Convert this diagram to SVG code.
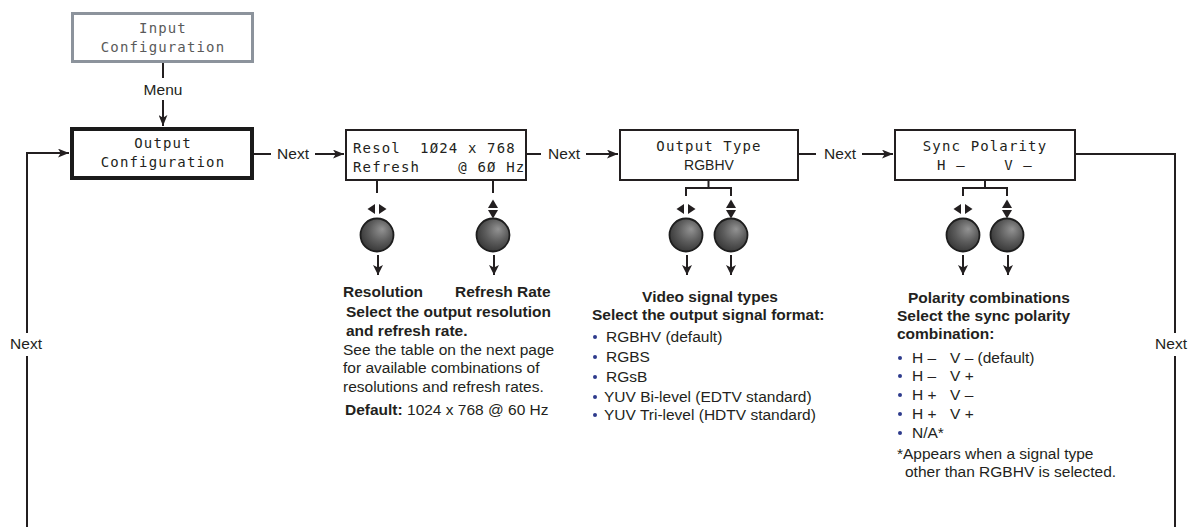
<svg xmlns="http://www.w3.org/2000/svg" width="1196" height="527" viewBox="0 0 1196 527">
<style>
.ln{stroke:#231f20;stroke-width:2;fill:none}
.box{fill:#fff;stroke:#231f20;stroke-width:2}
.mono{font-family:"DejaVu Sans Mono","Liberation Mono",monospace;font-size:14px;letter-spacing:1.15px;fill:#231f20}
.lbl{font-family:"Liberation Sans",Arial,sans-serif;font-size:15.5px;fill:#231f20}
.b{font-weight:bold}
.btn{fill:url(#btn);stroke:#1e1e1e;stroke-width:1.8}
.ico{fill:#231f20}
.dot{fill:#2e3a8c}
.mid{text-anchor:middle}
</style>
<defs>
<marker id="arr" viewBox="0 0 10 8" refX="10" refY="4" markerWidth="11" markerHeight="9" markerUnits="userSpaceOnUse" orient="auto">
<path d="M0,0 L10,4 L0,8 L2.5,4 z" fill="#231f20"/>
</marker>
<marker id="arrs" viewBox="0 0 10 10" refX="10" refY="5" markerWidth="10" markerHeight="10" markerUnits="userSpaceOnUse" orient="auto">
<path d="M0,0 L10,5 L0,10 L2.5,5 z" fill="#231f20"/>
</marker>
<radialGradient id="btn" cx="0.58" cy="0.4" r="0.62" fx="0.66" fy="0.32">
<stop offset="0" stop-color="#939393"/>
<stop offset="0.55" stop-color="#5d5d5d"/>
<stop offset="1" stop-color="#383838"/>
</radialGradient>
</defs>

<g id="connectors">
<line class="ln" x1="163" y1="63" x2="163" y2="78"/>
<line class="ln" x1="163" y1="100" x2="163" y2="126" marker-end="url(#arr)"/>
<line class="ln" x1="254" y1="154" x2="271" y2="154"/>
<line class="ln" x1="315" y1="154" x2="344" y2="154" marker-end="url(#arr)"/>
<line class="ln" x1="527" y1="154" x2="541" y2="154"/>
<line class="ln" x1="586" y1="154" x2="618" y2="154" marker-end="url(#arr)"/>
<line class="ln" x1="799" y1="154" x2="816" y2="154"/>
<line class="ln" x1="862" y1="154" x2="893" y2="154" marker-end="url(#arr)"/>
<polyline class="ln" points="1076,154 1175,154 1175,333"/>
<line class="ln" x1="1175" y1="356" x2="1175" y2="527"/>
<line class="ln" x1="27" y1="527" x2="27" y2="356"/>
<polyline class="ln" points="27,333 27,153 69,153" marker-end="url(#arr)"/>
<text class="lbl mid" x="163" y="95">Menu</text>
<text class="lbl mid" x="293" y="159">Next</text>
<text class="lbl mid" x="564" y="159">Next</text>
<text class="lbl mid" x="840" y="159">Next</text>
<text class="lbl mid" x="1171" y="349">Next</text>
<text class="lbl mid" x="26" y="349">Next</text>
</g>

<g id="input-configuration">
<rect x="72.5" y="13.5" width="180" height="48" fill="#fff" stroke="#8c939c" stroke-width="3"/>
<text class="mono mid" x="163" y="33" style="fill:#5a5a5a">Input</text>
<text class="mono mid" x="163" y="52" style="fill:#5a5a5a">Configuration</text>
</g>

<g id="output-configuration">
<rect x="72" y="129" width="180" height="49" fill="#fff" stroke="#1a1a1a" stroke-width="4"/>
<text class="mono mid" x="163" y="148">Output</text>
<text class="mono mid" x="163" y="167">Configuration</text>
</g>

<g id="resolution">
<rect class="box" x="346" y="130" width="180" height="50"/>
<text class="mono" x="353" y="153" xml:space="preserve">Resol  1Ø24 x 768</text>
<text class="mono" x="353" y="172" xml:space="preserve">Refresh    @ 6Ø Hz</text>
<line class="ln" x1="377" y1="181" x2="377" y2="193"/>
<line class="ln" x1="493" y1="181" x2="493" y2="193"/>
<polygon class="ico" points="367.5,209 375,204 375,214"/>
<polygon class="ico" points="386.5,209 379,204 379,214"/>
<polygon class="ico" points="493,199.5 498,208 488,208"/>
<polygon class="ico" points="493,218.5 498,210 488,210"/>
<circle class="btn" cx="377" cy="235" r="16.5"/>
<circle class="btn" cx="493" cy="235" r="16.5"/>
<line class="ln" x1="378" y1="255" x2="378" y2="275" marker-end="url(#arrs)"/>
<line class="ln" x1="494" y1="255" x2="494" y2="275" marker-end="url(#arrs)"/>
<text class="lbl b" x="343" y="297">Resolution</text>
<text class="lbl b" x="455" y="297">Refresh Rate</text>
<text class="lbl b" x="346" y="317">Select the output resolution</text>
<text class="lbl b" x="346" y="336">and refresh rate.</text>
<text class="lbl" x="343" y="355">See the table on the next page</text>
<text class="lbl" x="343" y="373">for available combinations of</text>
<text class="lbl" x="343" y="392">resolutions and refresh rates.</text>
<text class="lbl" x="345" y="415"><tspan class="b">Default:</tspan> 1024 x 768 @ 60 Hz</text>
</g>

<g id="output-type">
<rect class="box" x="620" y="130" width="178" height="50"/>
<text class="mono mid" x="709" y="151">Output Type</text>
<text class="mid" x="709" y="170" style="font-family:'Liberation Sans Narrow','Liberation Sans',Arial,sans-serif;font-size:14px;fill:#231f20">RGBHV</text>
<polyline class="ln" points="686,196 686,188 731,188 731,196"/>
<line class="ln" x1="708.5" y1="181" x2="708.5" y2="188"/>
<polygon class="ico" points="676.5,209 684,204 684,214"/>
<polygon class="ico" points="695.5,209 688,204 688,214"/>
<polygon class="ico" points="731,199.5 736,208 726,208"/>
<polygon class="ico" points="731,218.5 736,210 726,210"/>
<circle class="btn" cx="686" cy="235" r="16.5"/>
<circle class="btn" cx="731" cy="235" r="16.5"/>
<line class="ln" x1="687" y1="255" x2="687" y2="275" marker-end="url(#arrs)"/>
<line class="ln" x1="731" y1="255" x2="731" y2="275" marker-end="url(#arrs)"/>
<text class="lbl b mid" x="710" y="302">Video signal types</text>
<text class="lbl b" x="592" y="320">Select the output signal format:</text>
<circle class="dot" cx="595" cy="337" r="2"/>
<text class="lbl" x="606" y="342">RGBHV (default)</text>
<circle class="dot" cx="595" cy="357" r="2"/>
<text class="lbl" x="606" y="362">RGBS</text>
<circle class="dot" cx="595" cy="377" r="2"/>
<text class="lbl" x="606" y="382">RGsB</text>
<circle class="dot" cx="595" cy="397" r="2"/>
<text class="lbl" x="604" y="402">YUV Bi-level (EDTV standard)</text>
<circle class="dot" cx="595" cy="415" r="2"/>
<text class="lbl" x="604" y="420">YUV Tri-level (HDTV standard)</text>
</g>

<g id="sync-polarity">
<rect class="box" x="895" y="130" width="180" height="50"/>
<text class="mono mid" x="985" y="151">Sync Polarity</text>
<text class="mono mid" x="985" y="170" xml:space="preserve">H —    V —</text>
<polyline class="ln" points="963,196 963,188 1007,188 1007,196"/>
<line class="ln" x1="985" y1="181" x2="985" y2="188"/>
<polygon class="ico" points="953.5,209 961,204 961,214"/>
<polygon class="ico" points="972.5,209 965,204 965,214"/>
<polygon class="ico" points="1007,199.5 1012,208 1002,208"/>
<polygon class="ico" points="1007,218.5 1012,210 1002,210"/>
<circle class="btn" cx="963" cy="235" r="16.5"/>
<circle class="btn" cx="1007" cy="235" r="16.5"/>
<line class="ln" x1="963" y1="255" x2="963" y2="275" marker-end="url(#arrs)"/>
<line class="ln" x1="1008" y1="255" x2="1008" y2="275" marker-end="url(#arrs)"/>
<text class="lbl b" x="908" y="303">Polarity combinations</text>
<text class="lbl b" x="897" y="321">Select the sync polarity</text>
<text class="lbl b" x="897" y="339">combination:</text>
<circle class="dot" cx="900" cy="358" r="2"/>
<text class="lbl" x="912" y="363">H –<tspan x="950">V – (default)</tspan></text>
<circle class="dot" cx="900" cy="376" r="2"/>
<text class="lbl" x="912" y="381">H –<tspan x="950">V +</tspan></text>
<circle class="dot" cx="900" cy="395" r="2"/>
<text class="lbl" x="912" y="400">H +<tspan x="950">V –</tspan></text>
<circle class="dot" cx="900" cy="414" r="2"/>
<text class="lbl" x="912" y="419">H +<tspan x="950">V +</tspan></text>
<circle class="dot" cx="900" cy="433" r="2"/>
<text class="lbl" x="912" y="438">N/A*</text>
<text class="lbl" x="897" y="459">*Appears when a signal type</text>
<text class="lbl" x="905" y="477">other than RGBHV is selected.</text>
</g>
</svg>
